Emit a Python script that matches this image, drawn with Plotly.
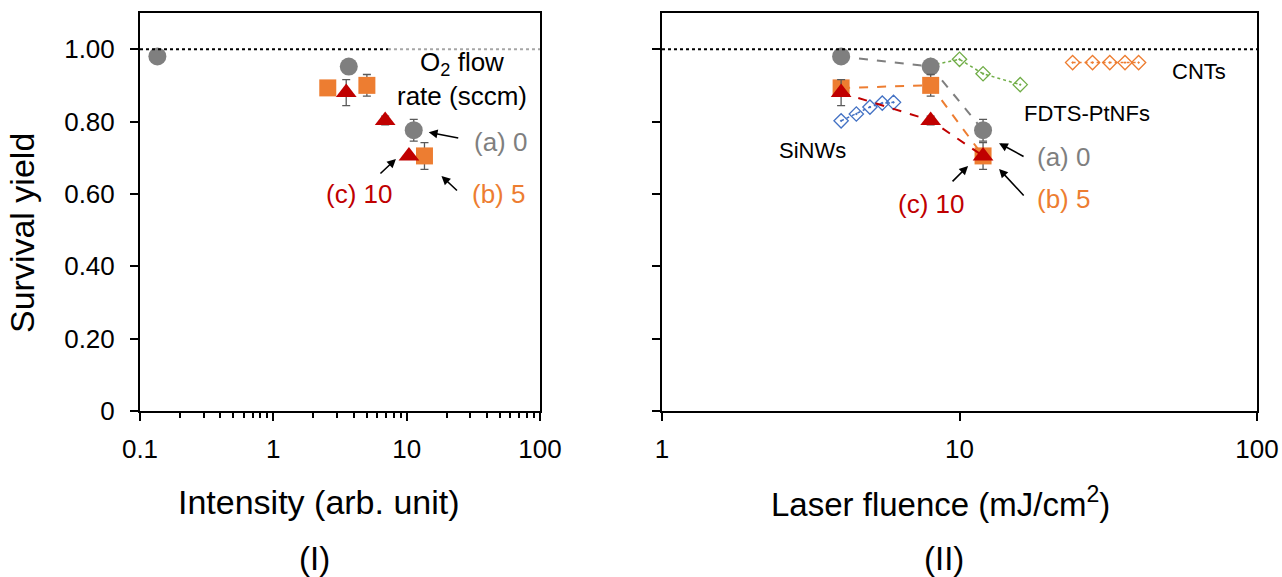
import math
import plotly.graph_objects as go

# ---- data -------------------------------------------------------------
# Survival yield for three O2 flow rates (sccm): (a) 0, (b) 5, (c) 10
yield_gray = [0.98, 0.952, 0.776]
yield_orange = [0.893, 0.90, 0.705]
yield_red = [0.88, 0.803, 0.705]
err_gray = [0.0, 0.012, 0.03]
err_orange = [0.0, 0.03, 0.037]
err_red = [0.036, 0.012, 0.0]

# Panel (I): measured intensity (arb. unit)
intensity_gray = [0.135, 3.68, 11.3]
intensity_orange = [2.56, 5.03, 13.6]
intensity_red = [3.52, 6.9, 10.4]

# Panel (II): laser fluence (mJ/cm2)
fluence = [4, 8, 12]

# Reference materials in panel (II)
sinw_x = [4.0, 4.5, 5.0, 5.5, 6.0]
sinw_y = [0.802, 0.821, 0.840, 0.851, 0.853]
fdts_x = [8, 10, 12, 16]
fdts_y = [0.955, 0.972, 0.932, 0.902]
cnt_x = [24, 28, 32, 36, 40]
cnt_y = [0.963, 0.963, 0.963, 0.963, 0.963]

y_ticks = [0, 0.2, 0.4, 0.6, 0.8, 1.0]
y_ticktext = ["0", "0.20", "0.40", "0.60", "0.80", "1.00"]
x1_ticks = [0.1, 1, 10, 100]
x1_ticktext = ["0.1", "1", "10", "100"]
x1_minor = [m * d for d in (0.1, 1, 10) for m in range(2, 10)]
x2_ticks = [1, 10, 100]
x2_ticktext = ["1", "10", "100"]

# ---- styling ----------------------------------------------------------
FONT = "Arial, 'Liberation Sans', sans-serif"
GRAY = "#7f7f7f"
ORANGE = "#ED7D31"
RED = "#C00000"
BLUE = "#4472C4"
GREEN = "#70AD47"
ERR = "#595959"
W, H = 1282, 577

fig = go.Figure()


def err_bar(vals):
    return dict(type="data", array=vals, visible=True, color=ERR,
                thickness=1.3, width=4)


main_series = [
    (intensity_gray, yield_gray, err_gray, GRAY, "circle", 18),
    (intensity_orange, yield_orange, err_orange, ORANGE, "square", 17),
    (intensity_red, yield_red, err_red, RED, "triangle-up", 18),
]

# Panel (I): markers only
for xs, ys, es, col, sym, sz in main_series:
    fig.add_trace(go.Scatter(
        x=xs, y=ys, mode="markers", xaxis="x", yaxis="y",
        marker=dict(color=col, symbol=sym, size=sz, line=dict(width=0)),
        error_y=err_bar(es), showlegend=False, hoverinfo="x+y"))

# Panel (II): reference materials (drawn first, underneath)
for xs, ys, col in [(sinw_x, sinw_y, BLUE),
                    (fdts_x, fdts_y, GREEN),
                    (cnt_x, cnt_y, ORANGE)]:
    fig.add_trace(go.Scatter(
        x=xs, y=ys, mode="lines+markers", xaxis="x2", yaxis="y2",
        line=dict(color=col, width=1.5, dash="dot"),
        marker=dict(symbol="diamond-open-dot", size=11, color=col,
                    line=dict(width=1.3, color=col)),
        showlegend=False, hoverinfo="x+y"))

# Panel (II): the three flow rates vs fluence, dashed connectors
for (_, ys, es, col, sym, sz) in main_series:
    fig.add_trace(go.Scatter(
        x=fluence, y=ys, mode="lines+markers", xaxis="x2", yaxis="y2",
        line=dict(color=col, width=2, dash="dash"),
        marker=dict(color=col, symbol=sym, size=sz, line=dict(width=0)),
        error_y=err_bar(es), showlegend=False, hoverinfo="x+y"))

# ---- axes -------------------------------------------------------------
ydom = [1 - 411 / H, 1 - 13 / H]
axis_common = dict(showline=True, linewidth=2, linecolor="black", mirror=True,
                   showgrid=False, zeroline=False, ticks="outside",
                   tickwidth=2, tickcolor="black", ticklen=8,
                   automargin=False,
                   tickfont=dict(family=FONT, size=26, color="black"))

fig.update_layout(
    template="none",
    width=W, height=H,
    margin=dict(l=0, r=0, t=0, b=0, autoexpand=False),
    paper_bgcolor="white", plot_bgcolor="white",
    font=dict(family=FONT, color="black"),
    xaxis=dict(domain=[140 / W, 540 / W], type="log", range=[-1, 2],
               tickmode="array", tickvals=x1_ticks, ticktext=x1_ticktext,
               minor=dict(tickmode="array", tickvals=x1_minor, ticks="outside",
                          ticklen=5, tickwidth=2, tickcolor="black"),
               anchor="y", ticklabelstandoff=6, **axis_common),
    yaxis=dict(domain=ydom, range=[0, 1.1], tickmode="array",
               tickvals=y_ticks, ticktext=y_ticktext, anchor="x",
               ticklabelstandoff=10, **axis_common),
    xaxis2=dict(domain=[662 / W, 1257 / W], type="log", range=[0, 2],
                tickmode="array", tickvals=x2_ticks, ticktext=x2_ticktext,
                anchor="y2", ticklabelstandoff=6, **axis_common),
    yaxis2=dict(domain=ydom, range=[0, 1.1], tickmode="array",
                tickvals=y_ticks, showticklabels=False, anchor="x2",
                **axis_common),
)

# Reference line at survival yield = 1
fig.add_shape(type="line", xref="x domain", yref="y", x0=0, x1=0.62,
              y0=1, y1=1, line=dict(color="black", width=2, dash="dot"))
fig.add_shape(type="line", xref="x domain", yref="y", x0=0.62, x1=1,
              y0=1, y1=1, line=dict(color="#a6a6a6", width=2, dash="dot"))
fig.add_shape(type="line", xref="x2 domain", yref="y2", x0=0, x1=1,
              y0=1, y1=1, line=dict(color="black", width=2, dash="dot"))


# ---- text -------------------------------------------------------------
def label(text, x, y, xa, ya, color="black", size=26, anchor="left",
          angle=0):
    fig.add_annotation(text=text, x=x, y=y, xref=xa, yref=ya,
                       xanchor=anchor, yanchor="middle", showarrow=False,
                       textangle=angle,
                       font=dict(family=FONT, size=size, color=color))


def arrow(px, py, xa, ya, dx, dy, ax, ay):
    # arrow whose head sits (dx, dy) px from a data point, tail at (ax, ay) px
    fig.add_annotation(text="", x=math.log10(px), y=py, xref=xa, yref=ya,
                       xshift=dx, yshift=-dy, showarrow=True,
                       ax=ax, ay=ay, arrowhead=2, arrowsize=1.1,
                       arrowwidth=1.6, arrowcolor="black")


# Panel (I)
label("O<sub>2</sub> flow<br>rate (sccm)", 0.909, 0.918, "x", "y")
label("(a) 0", 1.487, 0.743, "x", "y", GRAY)
label("(b) 5", 1.472, 0.599, "x", "y", ORANGE)
label("(c) 10", 0.383, 0.599, "x", "y", RED)
arrow(intensity_gray[2], yield_gray[2], "x", "y", 15, 2, 31, 6)
arrow(intensity_orange[2], yield_orange[2], "x", "y", 17, 20, 17, 16)
arrow(intensity_red[2], yield_red[2], "x", "y", -13, 3, -17, 16)

# Panel (II)
label("CNTs", 1.707, 0.937, "x2", "y2", size=22)
label("FDTS-PtNFs", 1.209, 0.821, "x2", "y2", size=22)
label("SiNWs", 0.387, 0.72, "x2", "y2", size=22)
label("(a) 0", 1.2545, 0.702, "x2", "y2", GRAY)
label("(b) 5", 1.2545, 0.585, "x2", "y2", ORANGE)
label("(c) 10", 0.788, 0.571, "x2", "y2", RED)
arrow(fluence[2], yield_gray[2], "x2", "y2", 16, 13, 26, 14)
arrow(fluence[2], yield_orange[2], "x2", "y2", 16, 13, 26, 28)
arrow(fluence[2], yield_red[2], "x2", "y2", -15, 10, -17, 17)

# Axis titles and panel tags
label("Survival yield", 22 / W, 1 - 233 / H, "paper", "paper", size=34,
      anchor="center", angle=-90)
label("Intensity (arb. unit)", 318.5 / W, 1 - 502 / H, "paper", "paper",
      size=34, anchor="center")
label("Laser fluence (mJ/cm<sup>2</sup>)", 940 / W, 1 - 502 / H, "paper",
      "paper", size=33, anchor="center")
label("(I)", 314.5 / W, 1 - 558 / H, "paper", "paper", size=33,
      anchor="center")
label("(II)", 944 / W, 1 - 558 / H, "paper", "paper", size=33,
      anchor="center")

fig.write_html("out.html")
